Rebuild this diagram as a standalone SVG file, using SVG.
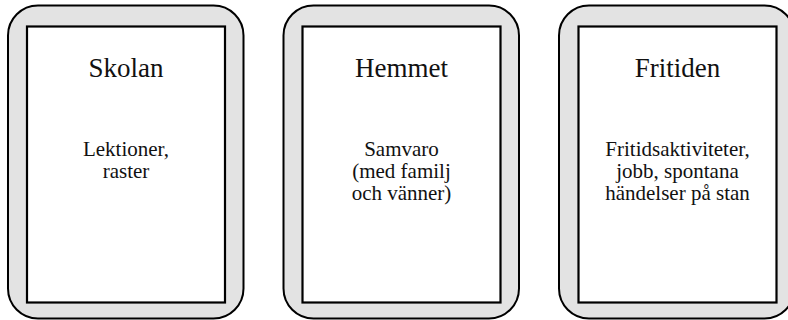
<svg xmlns="http://www.w3.org/2000/svg" width="788" height="320" viewBox="0 0 788 320">
<style>
.outer{fill:#e3e3e3;stroke:#000;stroke-width:2}
.inner{fill:#fff;stroke:#000;stroke-width:2.2}
.title{font-family:"Liberation Serif",serif;font-size:27px;text-anchor:middle;fill:#111}
.body{font-family:"Liberation Serif",serif;font-size:21px;text-anchor:middle;fill:#111}
</style>
<rect width="788" height="320" fill="#fff"/>
<g id="skolan">
<rect class="outer" x="8" y="5.5" width="235.5" height="313" rx="30" ry="30"/>
<rect class="inner" x="27" y="26.5" width="198" height="276"/>
<text class="title" x="126" y="76.5">Skolan</text>
<text class="body" x="126" y="156">Lektioner,</text>
<text class="body" x="126" y="178">raster</text>
</g>
<g id="hemmet">
<rect class="outer" x="283.5" y="5.5" width="235.5" height="313" rx="30" ry="30"/>
<rect class="inner" x="302.5" y="26.5" width="198" height="276"/>
<text class="title" x="401.5" y="76.5">Hemmet</text>
<text class="body" x="401.5" y="156">Samvaro</text>
<text class="body" x="401.5" y="178">(med familj</text>
<text class="body" x="401.5" y="200">och vänner)</text>
</g>
<g id="fritiden">
<rect class="outer" x="559" y="5.5" width="235.5" height="313" rx="30" ry="30"/>
<rect class="inner" x="578.5" y="26.5" width="198" height="276"/>
<text class="title" x="677.5" y="76.5">Fritiden</text>
<text class="body" x="677.5" y="156">Fritidsaktiviteter,</text>
<text class="body" x="677.5" y="178">jobb, spontana</text>
<text class="body" x="677.5" y="200">händelser på stan</text>
</g>
<g id="connectors"/>
</svg>
